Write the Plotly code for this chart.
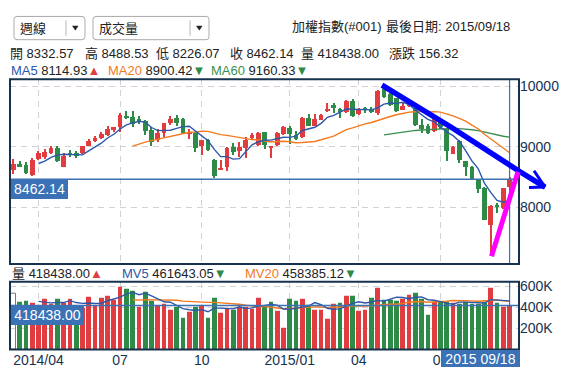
import numpy as np
import pandas as pd
import plotly.graph_objects as go

W, H = 581, 379          # browser window
OFF = 8                  # default page body margin
FW, FH = W - 2 * OFF, H - 2 * OFF

# ---------------- data ----------------
week_end = pd.date_range("2014-03-07", "2015-09-18", freq="W-FRI")
week_end = week_end[week_end != pd.Timestamp("2015-02-20")]   # Lunar New Year week, market closed
dates = [d.strftime("%Y/%m/%d") for d in week_end]

opens = [8617, 8704, 8693, 8524, 8797, 8824, 8890, 8977, 8660, 8880,
         8885, 8890, 9015, 9086, 9141, 9196, 9289, 9316, 9496, 9496,
         9464, 9425, 9278, 9108, 9218, 9387, 9480, 9464, 9201, 9223,
         9005, 9114, 8781, 8617, 8660, 9000, 8923, 8983, 9136, 9026,
         9234, 8977, 9026, 9207, 9300, 9196, 9163, 9480, 9343, 9442,
         9584, 9690, 9627, 9573, 9753, 9534, 9633, 9627, 9551, 9960,
         9875, 9804, 9613, 9667, 9640, 9350, 9339, 9258, 9449, 9285,
         8880, 9099, 8760, 8667, 8438, 8316, 7700, 8020, 7977, 8332.57]
highs = [8791, 8759, 8748, 8813, 8933, 8961, 9015, 9015, 8890, 8944,
         8922, 9015, 9125, 9179, 9234, 9343, 9327, 9562, 9589, 9589,
         9507, 9436, 9316, 9289, 9390, 9507, 9518, 9480, 9289, 9234,
         9114, 9125, 8797, 8770, 8988, 9054, 9070, 9152, 9223, 9245,
         9245, 9015, 9234, 9343, 9343, 9256, 9496, 9534, 9534, 9545,
         9715, 9715, 9644, 9769, 9780, 9644, 9660, 9660, 9933, 10014,
         9886, 9808, 9733, 9758, 9648, 9448, 9367, 9460, 9478, 9308,
         9008, 9115, 8768, 8678, 8448, 8330, 8030, 8060, 8320, 8488.53]
lows = [8540, 8660, 8551, 8507, 8770, 8797, 8868, 8742, 8655, 8824,
        8802, 8880, 9005, 9070, 9125, 9179, 9234, 9234, 9452, 9316,
        9371, 9190, 9015, 9081, 9152, 9354, 9343, 9201, 9125, 8906,
        8852, 8933, 8486, 8606, 8589, 8863, 8824, 8808, 9114, 9005,
        8961, 8813, 9015, 9190, 9043, 9108, 9136, 9332, 9332, 9442,
        9578, 9551, 9480, 9562, 9496, 9524, 9562, 9562, 9524, 9800,
        9678, 9569, 9602, 9648, 9339, 9230, 9203, 9248, 9288, 8766,
        8868, 8733, 8514, 8438, 8238, 7780, 7203.07, 7900, 7960, 8226.07]
closes = [8704, 8677, 8562, 8780, 8890, 8906, 8977, 8759, 8850, 8860,
          8855, 9005, 9086, 9141, 9207, 9289, 9316, 9518, 9480, 9371,
          9425, 9251, 9070, 9218, 9382, 9453, 9398, 9223, 9245, 8977,
          9108, 8950, 8507, 8644, 8972, 8906, 8988, 9108, 9190, 9223,
          9026, 9005, 9223, 9316, 9207, 9125, 9480, 9343, 9464, 9529,
          9627, 9640, 9578, 9753, 9507, 9606, 9616, 9573, 9923, 9820,
          9695, 9585, 9667, 9733, 9350, 9296, 9230, 9449, 9318, 8930,
          8995, 8777, 8667, 8460, 8288, 7786.92, 8019.18, 8001.41, 8305, 8462.14]
volumes_k = [534, 453, 462, 443, 390, 481, 434, 481, 440, 481,
             390, 395, 500, 418, 490, 509, 471, 596, 574, 556,
             402, 546, 462, 418, 434, 381, 403, 303, 362, 403,
             418, 303, 490, 353, 400, 381, 403, 403, 387, 490,
             403, 450, 371, 206, 481, 462, 481, 425, 378, 378,
             293, 434, 443, 509, 509, 368, 378, 490, 584, 471,
             469, 466, 478, 522, 541, 484, 334, 456, 456, 456,
             447, 431, 456, 431, 431, 455, 590, 440, 405, 418.438]
volumes = [vv * 1000 for vv in volumes_k]

tick_dates = ["2014/04/04", "2014/07/04", "2014/10/03", "2015/01/09", "2015/04/03", "2015/07/03"]
tick_labels = ["2014/04", "07", "10", "2015/01", "04", "07"]
price_ticks = [8000, 9000, 10000]
price_tick_labels = ["8000", "9000", "10000"]
vol_ticks = [200000, 400000, 600000]
vol_tick_labels = ["200K", "400K", "600K"]

# header texts
index_name = "加權指數(#001)"
last_date_text = "最後日期: 2015/09/18"
ohlc_header = [("開", "8332.57"), ("高", "8488.53"), ("低", "8226.07"),
               ("收", "8462.14"), ("量", "418438.00"), ("漲跌", "156.32")]
ma_header = [("MA5", "8114.93", "▲"), ("MA20", "8900.42", "▼"), ("MA60", "9160.33", "▼")]
mv_header = [("量", "418438.00", "▲"), ("MV5", "461643.05", "▼"), ("MV20", "458385.12", "▼")]

# ---------------- styles ----------------
FONT = "Liberation Sans, Arial, Noto Sans CJK TC, sans-serif"
RED = "#e13c3f"
GREEN = "#2e8a47"
NAVY = "#17324f"
BLUE_MA = "#2d58aa"
ORANGE = "#f47a1f"
GREEN_MA = "#3d8f50"
CROSS = "#3c71b3"
GRID = "#d2d2d2"
TXT = "#222222"

def X(px):
    return (px - OFF) / FW

def Y(py):
    return 1 - (py - OFF) / FH

o = np.array(opens, float)
h = np.array(highs, float)
l = np.array(lows, float)
c = np.array(closes, float)
v = np.array(volumes, float)
n = len(dates)

ma5 = pd.Series(c).rolling(5).mean()
ma20 = pd.Series(c).rolling(20).mean()
ma60 = pd.Series(c).rolling(60).mean()
mv5 = pd.Series(v).rolling(5).mean()
mv20 = pd.Series(v).rolling(20).mean()

candle_col = [RED if cc >= oo else GREEN for oo, cc in zip(o, c)]
vol_col = ["rgba(0,0,0,0)"] + [RED if c[i] >= c[i - 1] else GREEN for i in range(1, n)]
vol_line_col = ["#7a7a7a"] + vol_col[1:]
vol_line_w = [1] + [0] * (n - 1)

body_h = np.maximum(np.abs(c - o), 16)
body_base = (o + c) / 2 - body_h / 2

fig = go.Figure()
fig.add_trace(go.Bar(x=dates, y=h - l, base=l, width=0.17, marker=dict(color=candle_col, line=dict(width=0)),
                     xaxis="x", yaxis="y", hoverinfo="skip", showlegend=False))
fig.add_trace(go.Bar(x=dates, y=body_h, base=body_base, width=0.75, marker=dict(color=candle_col, line=dict(width=0)),
                     xaxis="x", yaxis="y", hoverinfo="skip", showlegend=False))
for ser, col in [(ma60, GREEN_MA), (ma20, ORANGE), (ma5, BLUE_MA)]:
    fig.add_trace(go.Scatter(x=dates, y=ser, mode="lines", line=dict(color=col, width=1.4),
                             xaxis="x", yaxis="y", hoverinfo="skip", showlegend=False))
fig.add_trace(go.Bar(x=dates, y=v, width=0.75,
                     marker=dict(color=vol_col, line=dict(color=vol_line_col, width=vol_line_w)),
                     xaxis="x2", yaxis="y2", hoverinfo="skip", showlegend=False))
for ser, col in [(mv20, ORANGE), (mv5, BLUE_MA)]:
    fig.add_trace(go.Scatter(x=dates, y=ser, mode="lines", line=dict(color=col, width=1.4),
                             xaxis="x2", yaxis="y2", hoverinfo="skip", showlegend=False))

XL, XR = 10, 519
P_TOP, P_BOT = 76, 262.7
V_TOP, V_BOT = 280.7, 349.3
xrange_ = [-0.53, 80.5]

common_x = dict(type="category", domain=[X(XL), X(XR)], range=xrange_, tickvals=tick_dates,
                showgrid=True, gridcolor=GRID, griddash="6px,5px", gridwidth=1,
                zeroline=False, showline=False, ticks="", fixedrange=True)
fig.update_layout(
    width=FW, height=FH, autosize=False,
    margin=dict(l=0, r=0, t=0, b=0),
    paper_bgcolor="white", plot_bgcolor="white",
    barmode="overlay", bargap=0,
    showlegend=False,
    font=dict(family=FONT, color=NAVY, size=14),
    xaxis=dict(**common_x, anchor="y", showticklabels=False),
    yaxis=dict(domain=[Y(P_BOT), Y(P_TOP)], range=[7059, 10119], side="right", anchor="x",
               tickvals=price_ticks, ticktext=price_tick_labels, showgrid=True, gridcolor=GRID,
               griddash="6px,5px", zeroline=False, showline=False, ticks="",
               tickfont=dict(size=14, color=NAVY)),
    xaxis2=dict(**common_x, anchor="y2", ticktext=tick_labels, tickfont=dict(size=14, color=NAVY)),
    yaxis2=dict(domain=[Y(V_BOT), Y(V_TOP)], range=[0, 643000], side="right", anchor="x2",
                tickvals=vol_ticks, ticktext=vol_tick_labels, showgrid=True, gridcolor=GRID,
                griddash="6px,5px", zeroline=False, showline=False, ticks="",
                tickfont=dict(size=14, color=NAVY)),
)

shapes = []
shapes.append(dict(type="line", xref="x domain", x0=0, x1=1, yref="y", y0=c[-1], y1=c[-1],
                   line=dict(color=CROSS, width=1.5), layer="above"))
shapes.append(dict(type="line", xref="x", x0=n - 1, x1=n - 1, yref="y domain", y0=0, y1=1,
                   line=dict(color=CROSS, width=1.2), layer="above"))
shapes.append(dict(type="line", xref="x2 domain", x0=0, x1=1, yref="y2", y0=v[-1], y1=v[-1],
                   line=dict(color=CROSS, width=1.5), layer="above"))
shapes.append(dict(type="line", xref="x2", x0=n - 1, x1=n - 1, yref="y2 domain", y0=0, y1=1,
                   line=dict(color=CROSS, width=1.2), layer="above"))
for top, bot in [(P_TOP, P_BOT), (V_TOP, V_BOT)]:
    shapes.append(dict(type="rect", xref="paper", yref="paper", x0=X(XL), x1=X(XR), y0=Y(bot), y1=Y(top),
                       line=dict(color=NAVY, width=2), fillcolor="rgba(0,0,0,0)", layer="above"))

def rrect(x0, y0, x1, y1, r):
    return (f"M {X(x0+r)},{Y(y0)} L {X(x1-r)},{Y(y0)} Q {X(x1)},{Y(y0)} {X(x1)},{Y(y0+r)} "
            f"L {X(x1)},{Y(y1-r)} Q {X(x1)},{Y(y1)} {X(x1-r)},{Y(y1)} L {X(x0+r)},{Y(y1)} "
            f"Q {X(x0)},{Y(y1)} {X(x0)},{Y(y1-r)} L {X(x0)},{Y(y0+r)} Q {X(x0)},{Y(y0)} {X(x0+r)},{Y(y0)} Z")

def tri(cx, cy):
    return f"M {X(cx-2.8)},{Y(cy-2)} L {X(cx+2.8)},{Y(cy-2)} L {X(cx)},{Y(cy+2.2)} Z"

for (bx0, bx1, sep, tcx) in [(14, 85, 66, 75.3), (93, 209, 190, 199.3)]:
    shapes.append(dict(type="path", xref="paper", yref="paper", path=rrect(bx0, 12.5, bx1, 36, 3),
                       line=dict(color="#ababab", width=1), fillcolor="white", layer="above"))
    shapes.append(dict(type="line", xref="paper", yref="paper", x0=X(sep), x1=X(sep), y0=Y(16.5), y1=Y(32),
                       line=dict(color="#b5b5b5", width=1), layer="above"))
    shapes.append(dict(type="path", xref="paper", yref="paper", path=tri(tcx, 24.2),
                       line=dict(color="#222", width=0.5), fillcolor="#222", layer="above"))

blue_pts = [(382, 82), (452, 125), (520, 169.5), (545, 185)]
shapes.append(dict(type="path", xref="paper", yref="paper",
                   path="M " + " L ".join(f"{X(a)},{Y(b)}" for a, b in blue_pts),
                   line=dict(color="#0000ff", width=5.5), fillcolor="rgba(0,0,0,0)", layer="above"))
for wx, wy in [(534, 168.5), (529, 185.5)]:
    shapes.append(dict(type="line", xref="paper", yref="paper", x0=X(545), y0=Y(185), x1=X(wx), y1=Y(wy),
                       line=dict(color="#0000ff", width=3), layer="above"))
shapes.append(dict(type="line", xref="paper", yref="paper", x0=X(491.5), y0=Y(255), x1=X(518), y1=Y(169.5),
                   line=dict(color="#ff00ff", width=5), layer="above"))
fig.update_layout(shapes=shapes)

def txt(x, y, s, size=13, color=TXT, anchor="left"):
    fig.add_annotation(x=X(x), y=Y(y), xref="paper", yref="paper", text=s, showarrow=False,
                       xanchor=anchor, yanchor="middle", borderpad=0, borderwidth=0,
                       font=dict(size=size, color=color, family=FONT))

txt(20, 24.5, "週線")
txt(99, 24.5, "成交量")
txt(292, 22.5, index_name)
txt(386, 22.5, last_date_text)

ohlc_x = [9.5, 84.5, 156, 229.5, 301, 388.5]
for (lab, val), xx in zip(ohlc_header, ohlc_x):
    txt(xx, 50, f"{lab} {val}")

ma_x = [10.5, 108, 210.5]
ma_cols = [BLUE_MA, ORANGE, GREEN_MA]
for (lab, val, arr), xx, col in zip(ma_header, ma_x, ma_cols):
    acol = RED if arr == "▲" else GREEN
    txt(xx, 66.7, f'<span style="color:{col}">{lab}</span> {val}<span style="color:{acol}">{arr}</span>')

mv_x = [11.5, 121.5, 244.5]
mv_cols = [TXT, BLUE_MA, ORANGE]
for (lab, val, arr), xx, col in zip(mv_header, mv_x, mv_cols):
    acol = RED if arr == "▲" else GREEN
    txt(xx, 272.5, f'<span style="color:{col}">{lab}</span> {val}<span style="color:{acol}">{arr}</span>')

LBL_BG = "#3b72b6"
fig.add_annotation(x=X(10.5), xref="paper", y=c[-1], yref="y", yanchor="top", xanchor="left",
                   text=f"{c[-1]:.2f}", showarrow=False, bgcolor=LBL_BG, borderpad=2, borderwidth=0,
                   width=53, height=16, font=dict(size=14, color="white", family=FONT))
fig.add_annotation(x=X(11), xref="paper", y=v[-1], yref="y2", yanchor="top", xanchor="left",
                   text=f"{v[-1]:.2f}", showarrow=False, bgcolor=LBL_BG, borderpad=2, borderwidth=0,
                   width=69, height=16, font=dict(size=14, color="white", family=FONT))
last_lbl = dates[-1].replace("/", " ", 1)
fig.add_annotation(x=X(520), xref="paper", y=Y(350), yref="paper", yanchor="top", xanchor="right",
                   text=last_lbl, showarrow=False, bgcolor=LBL_BG, borderpad=2, borderwidth=0,
                   width=75, height=13, font=dict(size=14, color="white", family=FONT))

fig.write_html("out.html")
